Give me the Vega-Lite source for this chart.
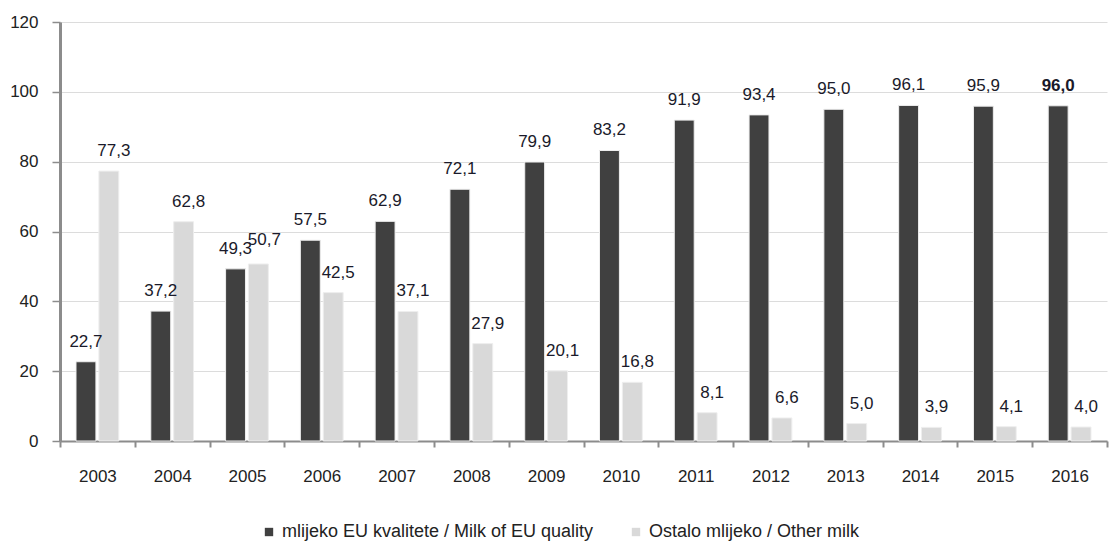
{
  "$schema": "https://vega.github.io/schema/vega-lite/v6.json",
  "width": 1047,
  "height": 419,
  "autosize": "none",
  "padding": {"left": 60, "top": 22, "right": 2, "bottom": 101},
  "background": "white",
  "config": {
    "locale": {"number": {"decimal": ",", "thousands": ".", "grouping": [3], "currency": ["", " €"]}},
    "font": "Liberation Sans",
    "view": {"stroke": null},
    "axis": {"labelFont": "Liberation Sans", "labelColor": "#222222"}
  },
  "data": {
    "values": [
      {"year": "2003", "series": "mlijeko EU kvalitete / Milk of EU quality", "value": 22.7},
      {"year": "2003", "series": "Ostalo mlijeko / Other milk", "value": 77.3},
      {"year": "2004", "series": "mlijeko EU kvalitete / Milk of EU quality", "value": 37.2},
      {"year": "2004", "series": "Ostalo mlijeko / Other milk", "value": 62.8},
      {"year": "2005", "series": "mlijeko EU kvalitete / Milk of EU quality", "value": 49.3},
      {"year": "2005", "series": "Ostalo mlijeko / Other milk", "value": 50.7},
      {"year": "2006", "series": "mlijeko EU kvalitete / Milk of EU quality", "value": 57.5},
      {"year": "2006", "series": "Ostalo mlijeko / Other milk", "value": 42.5},
      {"year": "2007", "series": "mlijeko EU kvalitete / Milk of EU quality", "value": 62.9},
      {"year": "2007", "series": "Ostalo mlijeko / Other milk", "value": 37.1},
      {"year": "2008", "series": "mlijeko EU kvalitete / Milk of EU quality", "value": 72.1},
      {"year": "2008", "series": "Ostalo mlijeko / Other milk", "value": 27.9},
      {"year": "2009", "series": "mlijeko EU kvalitete / Milk of EU quality", "value": 79.9},
      {"year": "2009", "series": "Ostalo mlijeko / Other milk", "value": 20.1},
      {"year": "2010", "series": "mlijeko EU kvalitete / Milk of EU quality", "value": 83.2},
      {"year": "2010", "series": "Ostalo mlijeko / Other milk", "value": 16.8},
      {"year": "2011", "series": "mlijeko EU kvalitete / Milk of EU quality", "value": 91.9},
      {"year": "2011", "series": "Ostalo mlijeko / Other milk", "value": 8.1},
      {"year": "2012", "series": "mlijeko EU kvalitete / Milk of EU quality", "value": 93.4},
      {"year": "2012", "series": "Ostalo mlijeko / Other milk", "value": 6.6},
      {"year": "2013", "series": "mlijeko EU kvalitete / Milk of EU quality", "value": 95.0},
      {"year": "2013", "series": "Ostalo mlijeko / Other milk", "value": 5.0},
      {"year": "2014", "series": "mlijeko EU kvalitete / Milk of EU quality", "value": 96.1},
      {"year": "2014", "series": "Ostalo mlijeko / Other milk", "value": 3.9},
      {"year": "2015", "series": "mlijeko EU kvalitete / Milk of EU quality", "value": 95.9},
      {"year": "2015", "series": "Ostalo mlijeko / Other milk", "value": 4.1},
      {"year": "2016", "series": "mlijeko EU kvalitete / Milk of EU quality", "value": 96.0},
      {"year": "2016", "series": "Ostalo mlijeko / Other milk", "value": 4.0}
    ]
  },
  "encoding": {
    "x": {
      "field": "year", "type": "nominal",
      "scale": {"paddingInner": 0, "paddingOuter": 0},
      "axis": {
        "title": null, "labelAngle": 0, "labelFontSize": 17, "labelPadding": 21,
        "domainColor": "#8c8c8c", "domainWidth": 2, "tickColor": "#8c8c8c", "tickWidth": 2, "tickSize": 6,
        "tickBand": "extent", "grid": false
      }
    },
    "xOffset": {
      "field": "series", "type": "nominal",
      "scale": {"domain": ["mlijeko EU kvalitete / Milk of EU quality", "Ostalo mlijeko / Other milk"], "paddingInner": 0.13, "paddingOuter": 0.7}
    },
    "y": {
      "field": "value", "type": "quantitative",
      "scale": {"domain": [0, 120], "nice": false},
      "axis": {
        "title": null, "values": [0, 20, 40, 60, 80, 100, 120], "labelFontSize": 17, "labelPadding": 14,
        "domainColor": "#8c8c8c", "domainWidth": 3, "tickColor": "#8c8c8c", "tickWidth": 1.5, "tickSize": 8,
        "grid": true, "gridColor": "#dcdcdc", "gridWidth": 1
      }
    }
  },
  "layer": [
    {
      "mark": {"type": "bar", "stroke": "#eeeeee", "strokeWidth": 1},
      "encoding": {
        "color": {
          "field": "series", "type": "nominal",
          "scale": {"domain": ["mlijeko EU kvalitete / Milk of EU quality", "Ostalo mlijeko / Other milk"], "range": ["#404040", "#d9d9d9"]},
          "legend": {
            "title": null, "orient": "none", "direction": "horizontal", "legendX": 200, "legendY": 501,
            "symbolType": "square", "symbolSize": 70, "symbolStrokeWidth": 0, "labelFontSize": 18, "labelLimit": 500,
            "labelColor": "#222222", "columnPadding": 33, "labelOffset": 4
          }
        }
      }
    },
    {
      "transform": [{"filter": "datum.series == 'mlijeko EU kvalitete / Milk of EU quality' && datum.year != '2016'"}],
      "mark": {"type": "text", "baseline": "bottom", "dy": -11, "fontSize": 17, "color": "#1a1a2a"},
      "encoding": {"text": {"field": "value", "type": "quantitative", "format": ".1f"}}
    },
    {
      "transform": [{"filter": "datum.series == 'Ostalo mlijeko / Other milk' && datum.year != '2005'"}],
      "mark": {"type": "text", "baseline": "bottom", "dy": -11, "dx": 5, "fontSize": 17, "color": "#1a1a2a"},
      "encoding": {"text": {"field": "value", "type": "quantitative", "format": ".1f"}}
    },
    {
      "transform": [{"filter": "datum.series == 'Ostalo mlijeko / Other milk' && datum.year == '2005'"}],
      "mark": {"type": "text", "baseline": "bottom", "dy": -15, "dx": 6, "fontSize": 17, "color": "#1a1a2a"},
      "encoding": {"text": {"field": "value", "type": "quantitative", "format": ".1f"}}
    },
    {
      "transform": [{"filter": "datum.series == 'mlijeko EU kvalitete / Milk of EU quality' && datum.year == '2016'"}],
      "mark": {"type": "text", "baseline": "bottom", "dy": -11, "fontSize": 17, "fontWeight": "bold", "color": "#1a1a2a"},
      "encoding": {"text": {"field": "value", "type": "quantitative", "format": ".1f"}}
    }
  ]
}
